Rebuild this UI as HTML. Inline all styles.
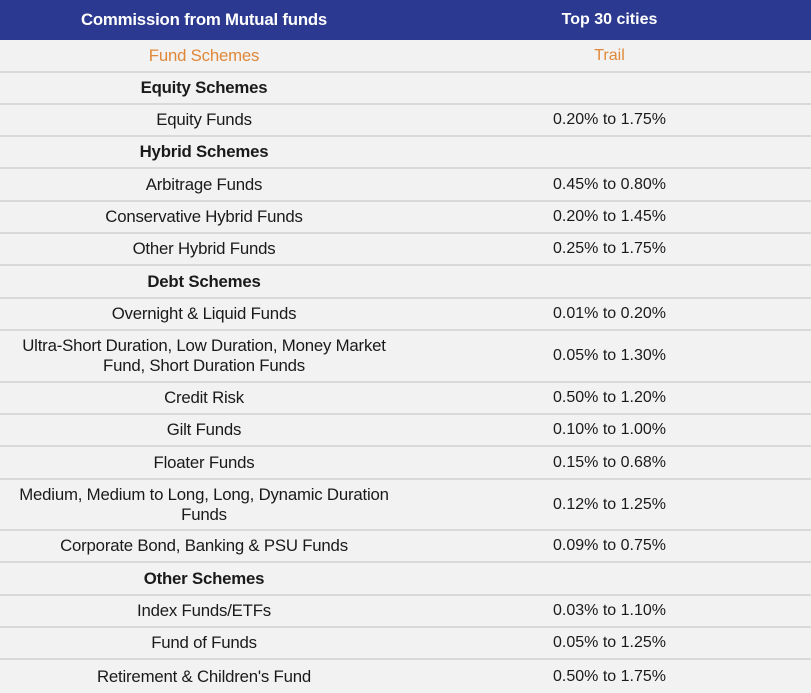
<!DOCTYPE html>
<html><head><style>
html,body{margin:0;padding:0;background:#f2f2f2;}
body{width:811px;height:693px;overflow:hidden;font-family:"Liberation Sans",sans-serif;font-size:16.8px;color:#1a1a1a;}
.r{position:absolute;left:0;width:811px;display:flex;align-items:center;border-bottom:2px solid #d9d9d9;box-sizing:border-box;}
.l{width:408px;text-align:center;line-height:20px;letter-spacing:-0.2px;}
.v{width:403px;text-align:center;line-height:20px;font-size:16px;}
.h{background:#2b3990;color:#fff;font-weight:bold;border-bottom:none;}
.o{color:#e0883a;}
.b{font-weight:bold;}
</style></head><body>
<div class="r h" style="top:0;height:40px"><div class="l">Commission from Mutual funds</div><div class="v">Top 30 cities</div></div>
<div class="r o" style="top:40px;height:33px"><div class="l">Fund Schemes</div><div class="v">Trail</div></div>
<div class="r" style="top:73px;height:32px"><div class="l b">Equity Schemes</div><div class="v"></div></div>
<div class="r" style="top:105px;height:32px"><div class="l">Equity Funds</div><div class="v">0.20% to 1.75%</div></div>
<div class="r" style="top:137px;height:32px"><div class="l b">Hybrid Schemes</div><div class="v"></div></div>
<div class="r" style="top:169px;height:33px"><div class="l">Arbitrage Funds</div><div class="v">0.45% to 0.80%</div></div>
<div class="r" style="top:202px;height:32px"><div class="l">Conservative Hybrid Funds</div><div class="v">0.20% to 1.45%</div></div>
<div class="r" style="top:234px;height:32px"><div class="l">Other Hybrid Funds</div><div class="v">0.25% to 1.75%</div></div>
<div class="r" style="top:266px;height:33px"><div class="l b">Debt Schemes</div><div class="v"></div></div>
<div class="r" style="top:299px;height:32px"><div class="l">Overnight &amp; Liquid Funds</div><div class="v">0.01% to 0.20%</div></div>
<div class="r" style="top:331px;height:52px"><div class="l">Ultra-Short Duration, Low Duration, Money Market<br>Fund, Short Duration Funds</div><div class="v">0.05% to 1.30%</div></div>
<div class="r" style="top:383px;height:32px"><div class="l">Credit Risk</div><div class="v">0.50% to 1.20%</div></div>
<div class="r" style="top:415px;height:32px"><div class="l">Gilt Funds</div><div class="v">0.10% to 1.00%</div></div>
<div class="r" style="top:447px;height:33px"><div class="l">Floater Funds</div><div class="v">0.15% to 0.68%</div></div>
<div class="r" style="top:480px;height:51px"><div class="l">Medium, Medium to Long, Long, Dynamic Duration<br>Funds</div><div class="v">0.12% to 1.25%</div></div>
<div class="r" style="top:531px;height:32px"><div class="l">Corporate Bond, Banking &amp; PSU Funds</div><div class="v">0.09% to 0.75%</div></div>
<div class="r" style="top:563px;height:33px"><div class="l b">Other Schemes</div><div class="v"></div></div>
<div class="r" style="top:596px;height:32px"><div class="l">Index Funds/ETFs</div><div class="v">0.03% to 1.10%</div></div>
<div class="r" style="top:628px;height:32px"><div class="l">Fund of Funds</div><div class="v">0.05% to 1.25%</div></div>
<div class="r" style="top:660px;height:33px;border-bottom:none"><div class="l">Retirement &amp; Children's Fund</div><div class="v">0.50% to 1.75%</div></div>
</body></html>
